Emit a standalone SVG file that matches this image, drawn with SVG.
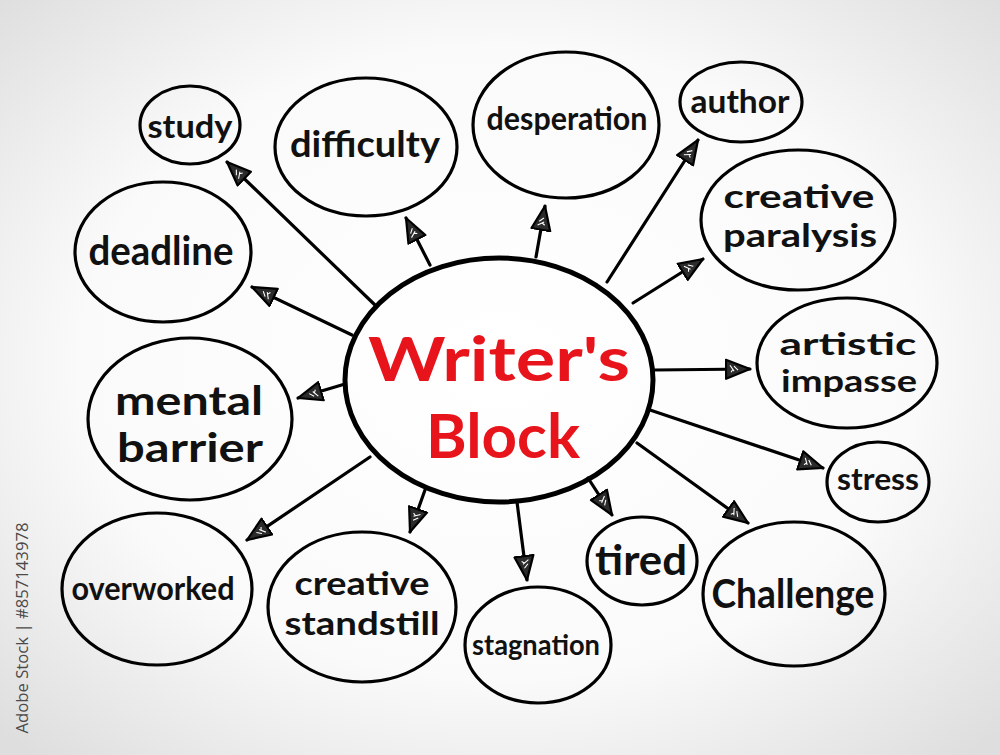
<svg xmlns="http://www.w3.org/2000/svg" width="1000" height="755" viewBox="0 0 1000 755">
  <defs>
    <radialGradient id="bg" cx="50%" cy="48%" r="70%">
      <stop offset="0" stop-color="#ffffff"/>
      <stop offset="0.6" stop-color="#fafafa"/>
      <stop offset="1" stop-color="#dedede"/>
    </radialGradient>
    <marker id="arr" viewBox="0 0 26 22" refX="25" refY="11" markerWidth="26" markerHeight="22" markerUnits="userSpaceOnUse" orient="auto">
      <path d="M1,1.5 L25,11 L1,20.5 Z" fill="#2b2b2b" stroke="#000" stroke-width="2.2" stroke-linejoin="round"/>
      <path d="M5,7 L9,13 M9,8 L13,12 M6,14 L8,11" stroke="#fff" stroke-width="1.1" fill="none"/>
    </marker>
    <style>
      .node ellipse { fill: none; stroke: #000; stroke-width: 3.2; }
      .node text { font-family: "Lato", "Open Sans", "Liberation Sans", sans-serif; font-weight: 700; fill: #111; text-anchor: middle; }
      .conn line { stroke: #000; stroke-width: 3.2; stroke-linecap: round; marker-end: url(#arr); }
      .center ellipse { fill: none; stroke: #000; stroke-width: 5; }
      .center text { font-family: "Lato", "Open Sans", "Liberation Sans", sans-serif; font-weight: 700; fill: #e8141b; text-anchor: middle; }
      .wm { font-family: "Open Sans", "Liberation Sans", sans-serif; font-size: 17px; fill: #4a4a4a; text-anchor: middle; }
    </style>
  </defs>
  <rect width="1000" height="755" fill="url(#bg)"/>

  <g id="connectors" class="conn">
    <line x1="375" y1="305" x2="227" y2="162"/>
    <line x1="430" y1="265" x2="406" y2="218"/>
    <line x1="352" y1="335" x2="252" y2="287"/>
    <line x1="536" y1="257" x2="545" y2="206"/>
    <line x1="607" y1="282" x2="698" y2="140"/>
    <line x1="633" y1="303" x2="703" y2="259"/>
    <line x1="655" y1="370" x2="750" y2="369"/>
    <line x1="650" y1="410" x2="823" y2="468"/>
    <line x1="637" y1="443" x2="748" y2="523"/>
    <line x1="588" y1="478" x2="612" y2="515"/>
    <line x1="517" y1="502" x2="527" y2="580"/>
    <line x1="425" y1="490" x2="410" y2="532"/>
    <line x1="370" y1="457" x2="247" y2="540"/>
    <line x1="345" y1="384" x2="298" y2="398"/>
  </g>

  <g id="center" class="center">
    <ellipse cx="499" cy="380" rx="154" ry="122"/>
    <text x="499" y="381" font-size="62" textLength="262" lengthAdjust="spacingAndGlyphs">Writer's</text>
    <text x="503" y="458" font-size="62" textLength="154" lengthAdjust="spacingAndGlyphs">Block</text>
  </g>

  <g id="node-study" class="node">
    <ellipse cx="190" cy="125" rx="50" ry="39"/>
    <text x="190" y="138" font-size="32" textLength="85" lengthAdjust="spacingAndGlyphs">study</text>
  </g>
  <g id="node-difficulty" class="node">
    <ellipse cx="366" cy="147" rx="91" ry="69"/>
    <text x="365" y="157" font-size="36" textLength="150" lengthAdjust="spacingAndGlyphs">difficulty</text>
  </g>
  <g id="node-desperation" class="node">
    <ellipse cx="566" cy="125" rx="93" ry="73"/>
    <text x="567" y="130" font-size="32" textLength="161" lengthAdjust="spacingAndGlyphs">desperation</text>
  </g>
  <g id="node-author" class="node">
    <ellipse cx="741" cy="102" rx="61" ry="40"/>
    <text x="740" y="113" font-size="32" textLength="99" lengthAdjust="spacingAndGlyphs">author</text>
  </g>
  <g id="node-creative-paralysis" class="node">
    <ellipse cx="798" cy="220" rx="97" ry="70"/>
    <text x="799" y="208" font-size="32" textLength="151" lengthAdjust="spacingAndGlyphs">creative</text>
    <text x="800" y="247" font-size="32" textLength="154" lengthAdjust="spacingAndGlyphs">paralysis</text>
  </g>
  <g id="node-deadline" class="node">
    <ellipse cx="163" cy="252" rx="88" ry="70"/>
    <text x="161" y="265" font-size="40" textLength="145" lengthAdjust="spacingAndGlyphs">deadline</text>
  </g>
  <g id="node-mental-barrier" class="node">
    <ellipse cx="190" cy="419" rx="102" ry="81"/>
    <text x="189" y="415" font-size="40" textLength="148" lengthAdjust="spacingAndGlyphs">mental</text>
    <text x="190" y="462" font-size="40" textLength="146" lengthAdjust="spacingAndGlyphs">barrier</text>
  </g>
  <g id="node-artistic-impasse" class="node">
    <ellipse cx="847" cy="363" rx="90" ry="65"/>
    <text x="848" y="355" font-size="31" textLength="137" lengthAdjust="spacingAndGlyphs">artistic</text>
    <text x="849" y="392" font-size="31" textLength="136" lengthAdjust="spacingAndGlyphs">impasse</text>
  </g>
  <g id="node-stress" class="node">
    <ellipse cx="878" cy="482" rx="51" ry="40"/>
    <text x="878" y="490" font-size="30" textLength="82" lengthAdjust="spacingAndGlyphs">stress</text>
  </g>
  <g id="node-overworked" class="node">
    <ellipse cx="157" cy="589" rx="95" ry="76"/>
    <text x="153" y="600" font-size="32" textLength="163" lengthAdjust="spacingAndGlyphs">overworked</text>
  </g>
  <g id="node-creative-standstill" class="node">
    <ellipse cx="362" cy="607" rx="94" ry="75"/>
    <text x="362" y="595" font-size="33" textLength="135" lengthAdjust="spacingAndGlyphs">creative</text>
    <text x="362" y="635" font-size="33" textLength="155" lengthAdjust="spacingAndGlyphs">standstill</text>
  </g>
  <g id="node-stagnation" class="node">
    <ellipse cx="538" cy="645" rx="73" ry="58"/>
    <text x="536" y="655" font-size="28" textLength="128" lengthAdjust="spacingAndGlyphs">stagnation</text>
  </g>
  <g id="node-tired" class="node">
    <ellipse cx="642" cy="561" rx="55" ry="44"/>
    <text x="641" y="575" font-size="42" textLength="92" lengthAdjust="spacingAndGlyphs">tired</text>
  </g>
  <g id="node-challenge" class="node">
    <ellipse cx="794" cy="594" rx="91" ry="72"/>
    <text x="793" y="608" font-size="40" textLength="163" lengthAdjust="spacingAndGlyphs">Challenge</text>
  </g>

  <text class="wm" transform="translate(28,628) rotate(-90)" textLength="211" lengthAdjust="spacingAndGlyphs">Adobe Stock | #857143978</text>
</svg>
